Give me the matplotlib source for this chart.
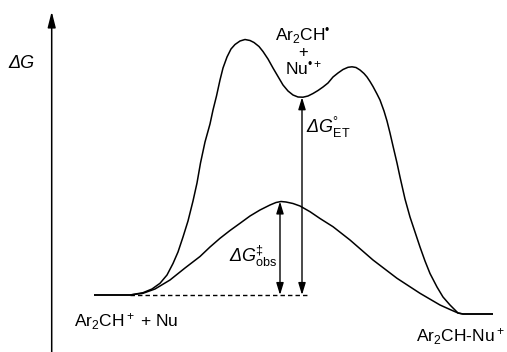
import matplotlib
matplotlib.use('Agg')
import matplotlib.pyplot as plt

plt.rcParams['font.family'] = ['Liberation Sans', 'DejaVu Sans']
plt.rcParams['mathtext.fontset'] = 'custom'
plt.rcParams['mathtext.rm'] = 'Liberation Sans'
plt.rcParams['mathtext.it'] = 'Liberation Sans:italic'
plt.rcParams['mathtext.bf'] = 'Liberation Sans:bold'

# reaction coordinate / free energy (screen units, y down)
upper_x = [94, 130, 143, 152, 160, 167, 173, 178, 183, 188, 193, 197, 200.5, 205, 210,
           213, 216.5, 220, 223, 227, 231, 235, 240, 245, 250, 254, 259, 263, 268, 273,
           278, 283, 288, 293, 298, 303, 308, 313, 318, 323, 328, 333, 338, 343, 348,
           352, 356, 360, 364, 367, 370, 373, 377, 380, 384, 387, 390, 393, 397, 400,
           405, 410, 415, 420, 425, 430, 437, 443, 450, 458, 463, 493]
upper_y = [295, 295, 292.7, 289, 283.3, 275, 263.5, 252, 237, 221, 201, 183, 163, 142, 124,
           110, 96, 80, 68, 57, 49, 44.5, 41, 39.5, 40.5, 42.5, 46.5, 51.5, 59, 68,
           76.5, 85, 91, 95, 97, 97.2, 96, 93.5, 90.5, 87, 83, 77, 73, 69.5, 67.3,
           66.8, 67.5, 70, 73.5, 77, 81.5, 86.5, 94, 100, 111, 121, 133, 146, 163, 177,
           199, 217, 232, 247, 261, 273.5, 287, 297, 305, 313, 314, 314]

lower_x = [94, 130, 143, 155, 170, 185, 200, 210, 220, 230, 240, 250, 260, 270, 276,
           281, 286, 293, 300, 310, 320, 333, 350, 373, 397, 420, 440, 450, 458, 463, 493]
lower_y = [295, 295, 293.3, 289, 280, 268, 256.5, 247, 238.3, 230.5, 223.3, 216, 210, 205, 202.5,
           201.5, 202, 203.5, 206, 211.7, 218.5, 226.7, 240, 260, 278.3, 293.3, 305, 309.5, 313, 314, 314]

base_y = 295
obs_x, obs_top = 280, 201.5
et_x, et_top = 302, 97.3
dash_x = [130, 308]

fig = plt.figure(figsize=(5.07, 3.52), dpi=100)
ax = fig.add_axes([0, 0, 1, 1])
ax.set_xlim(0, 507)
ax.set_ylim(352, 0)
ax.axis('off')

ax.plot(upper_x, upper_y, color='black', lw=1.1, solid_capstyle='butt')
ax.plot(lower_x, lower_y, color='black', lw=1.1, solid_capstyle='butt')
ax.plot(dash_x, [base_y, base_y], color='black', lw=1.0, dashes=(3.2, 2.2))

# energy axis
ax.annotate('', xy=(51.7, 11.5), xytext=(51.7, 352),
            arrowprops=dict(arrowstyle='-|>,head_length=0.95,head_width=0.24',
                            mutation_scale=10, lw=1.1, color='black',
                            shrinkA=0, shrinkB=0))

arrow_style = '<|-|>,head_length=0.72,head_width=0.22'
ax.annotate('', xy=(obs_x, obs_top), xytext=(obs_x, base_y),
            arrowprops=dict(arrowstyle=arrow_style, mutation_scale=10, lw=1.0,
                            color='black', shrinkA=0, shrinkB=0))
ax.annotate('', xy=(et_x, et_top), xytext=(et_x, base_y),
            arrowprops=dict(arrowstyle=arrow_style, mutation_scale=10, lw=1.0,
                            color='black', shrinkA=0, shrinkB=0))

fs = 12.5
ax.text(8.5, 68, 'ΔG', fontsize=fs + 0.5, style='italic', ha='left', va='baseline')
ax.text(306, 133.3, r'ΔG$^{°}_{\mathrm{ET}}$', fontsize=fs + 0.5, style='italic',
        ha='left', va='baseline')
ax.text(277.5, 261.7, r'ΔG$^{\ddagger}_{\mathrm{obs}}$', fontsize=fs + 0.5,
        style='italic', ha='right', va='baseline')
ax.text(303, 41, r'Ar$_2$CH$^{•}$', fontsize=fs, ha='center', va='baseline')
ax.text(303, 56.5, '+', fontsize=fs - 0.5, ha='center', va='baseline')
ax.text(304, 74, r'Nu$^{• +}$', fontsize=fs, ha='center', va='baseline')
ax.text(74, 326.7, r'Ar$_2$CH$^+$ + Nu', fontsize=fs, ha='left', va='baseline')
ax.text(505, 341.7, r'Ar$_2$CH-Nu$^+$', fontsize=fs, ha='right', va='baseline')

fig.savefig('out.png', dpi=100)
